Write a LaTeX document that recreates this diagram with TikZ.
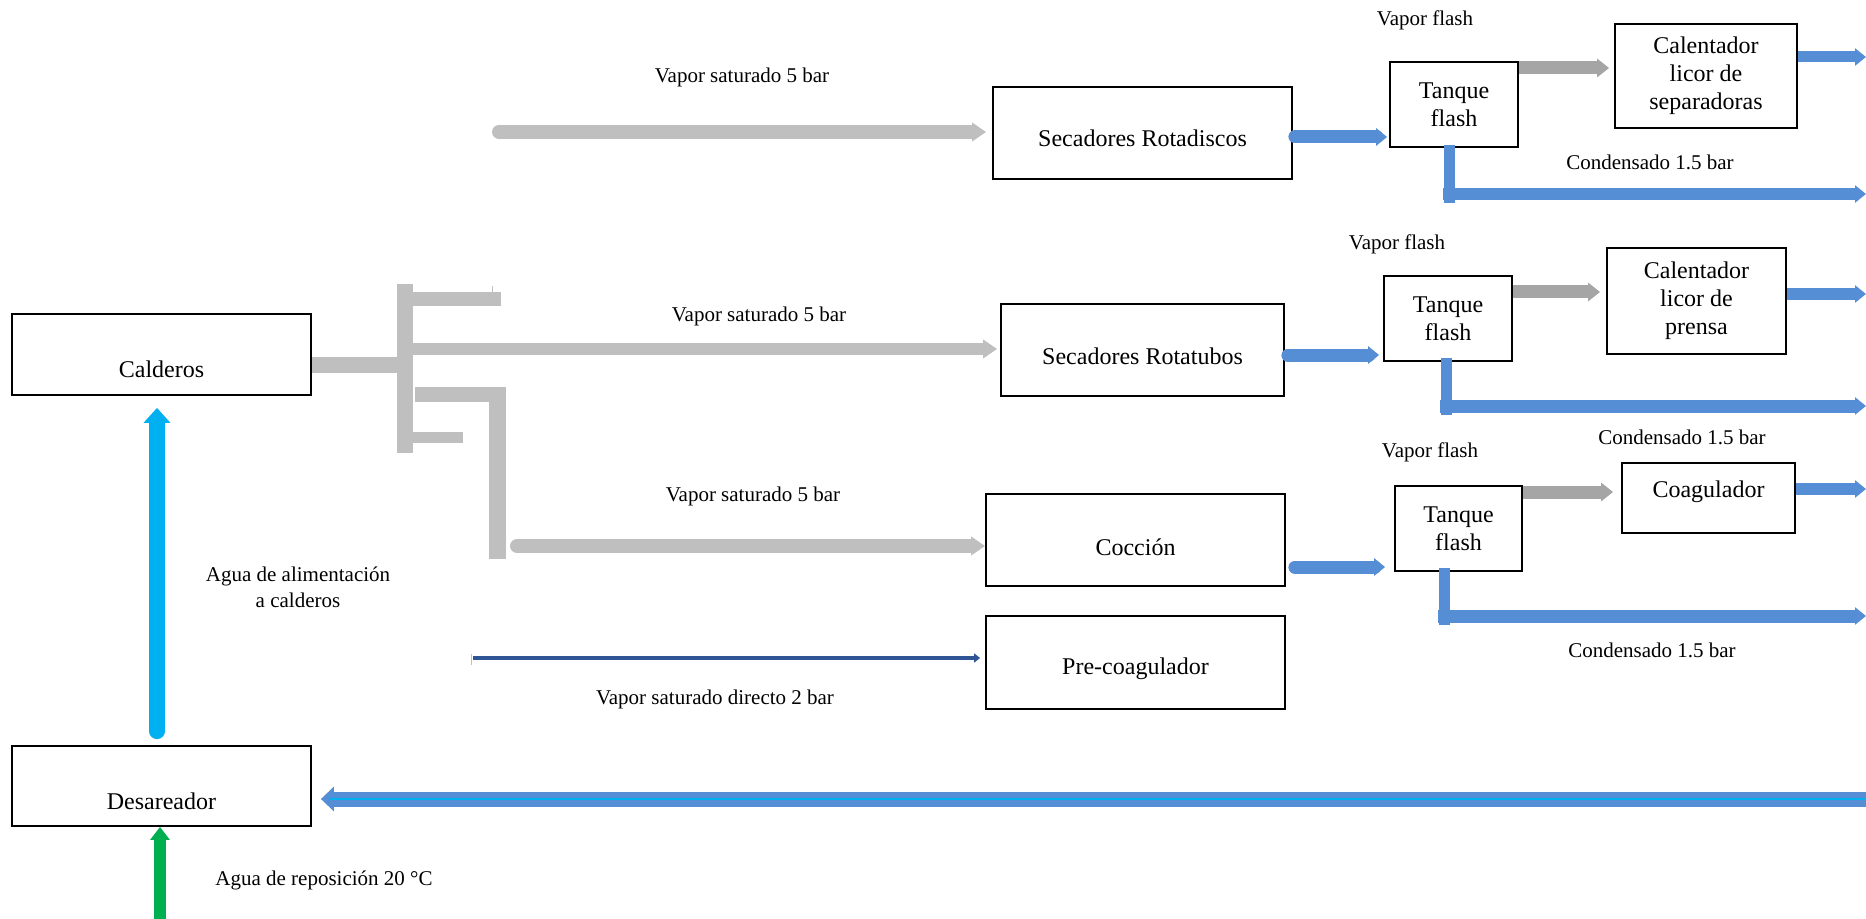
\documentclass[tikz,border=0pt]{standalone}
\usepackage{fontspec}
\setmainfont{Liberation Serif}
\usetikzlibrary{arrows.meta,calc}
\definecolor{pipegray}{HTML}{BFBFBF}
\definecolor{flashgray}{HTML}{A5A5A5}
\definecolor{condblue}{HTML}{558ED5}
\definecolor{feedcyan}{HTML}{00B0F0}
\definecolor{makeupgreen}{HTML}{00B050}
\definecolor{steamblue}{HTML}{2F5597}
% lower a label inside its box without changing the box size
\newcommand\dropby[2]{\raisebox{-#1}[0pt][0pt]{#2}}

\begin{document}
\begin{tikzpicture}[x=0.5pt,y=-0.5pt,
  unit/.style={draw=black, line width=0.9pt, fill=white, inner sep=0pt,
    align=center, font=\fontsize{12}{14}\selectfont},
  lbl/.style={inner sep=0pt, align=center, font=\fontsize{10.5}{13}\selectfont},
  steam/.style={draw=pipegray, line width=7pt, line cap=round,
    -{Triangle[length=7pt,width=9pt]}},
  flashline/.style={draw=flashgray, line width=6.5pt,
    -{Triangle[length=6pt,width=9pt]}},
  cond/.style={draw=condblue, line width=6.5pt, line cap=round,
    -{Triangle[length=5.5pt,width=8.5pt]}},
  condpipe/.style={draw=condblue, line width=5.5pt},
  feed/.style={draw=feedcyan, line width=8pt, line cap=round,
    -{Triangle[length=7.5pt,width=13pt]}},
  makeup/.style={draw=makeupgreen, line width=6pt,
    -{Triangle[length=6.5pt,width=9.5pt]}},
  ret/.style={draw=condblue, line width=7.5pt,
    -{Triangle[length=6.5pt,width=12pt]}},
  direct/.style={draw=steamblue, line width=2pt,
    -{Triangle[length=3pt,width=4.5pt]}},
]
\useasboundingbox (0,0) rectangle (1866,919);

% ---------- equipment ----------
\node[unit, minimum width=149.5pt, minimum height=40.5pt] (cal) at (161.5,354.5) {\dropby{11.25pt}{Calderos}};
\node[unit, minimum width=149.5pt, minimum height=40pt] (des) at (161.5,786) {\dropby{11.5pt}{Desareador}};
\node[unit, minimum width=149.5pt, minimum height=46pt] (rd) at (1142.5,133) {\dropby{7pt}{Secadores Rotadiscos}};
\node[unit, minimum width=141.5pt, minimum height=46pt] (rt) at (1142.5,350) {\dropby{7.5pt}{Secadores Rotatubos}};
\node[unit, minimum width=149.5pt, minimum height=46pt] (coc) at (1135.5,540) {\dropby{7.5pt}{Cocción}};
\node[unit, minimum width=149.5pt, minimum height=46.5pt] (pre) at (1135.5,662.5) {\dropby{6pt}{Pre-coagulador}};

\node[unit, minimum width=64pt, minimum height=42.5pt] (t1) at (1454,104.5) {Tanque\\flash};
\node[unit, minimum width=91pt, minimum height=52pt] (h1) at (1706,76) {Calentador\\licor de\\separadoras};
\node[unit, minimum width=64pt, minimum height=42.5pt] (t2) at (1448,318.5) {Tanque\\flash};
\node[unit, minimum width=89.5pt, minimum height=53pt] (h2) at (1696.5,301) {Calentador\\licor de\\prensa};
\node[unit, minimum width=63.5pt, minimum height=42.5pt] (t3) at (1458.5,528.5) {Tanque\\flash};
\node[unit, minimum width=86.5pt, minimum height=35pt] (co) at (1708.5,498) {\dropby{-0.5pt}{Coagulador}};

% ---------- steam header ----------
\coordinate (hdr) at (405,365);
\draw[draw=pipegray, line width=8pt] (cal.east |- hdr) -- (hdr);
\fill[pipegray] (397,284) rectangle (413,453);
\fill[pipegray] (413,292) rectangle (501,306);
\draw[pipegray, line width=0.5pt] (492,286) -- (492,292);
\fill[pipegray] (415,387) rectangle (506,402);
\fill[pipegray] (489,392) rectangle (506,559);
\fill[pipegray] (413,432) rectangle (463,443);

% ---------- steam to consumers ----------
\coordinate (s1) at (499,132);
\coordinate (s2) at (409,349);
\coordinate (s3) at (517,546);
\draw[steam] (s1) -- (s1 -| rd.west) [shorten >=3pt];
\draw[steam, line width=6pt, line cap=butt] (s2) -- (s2 -| rt.west) [shorten >=1.5pt];
\draw[steam] (s3) -- (s3 -| coc.west);
\coordinate (p0) at (473,658);
\draw[gray!50, line width=0.4pt] (471,654) -- (471,665);
\draw[direct, shorten >=2.5pt] (p0) -- (p0 -| pre.west);

% ---------- condensate to flash tanks ----------
\draw[cond] ($(rd.east)+(2,4)$) -- ($(t1.west |- rd.east)+(-2,4)$);
\draw[cond] ($(rt.east)+(3,5)$) -- ($(t2.west |- rt.east)+(-4,5)$);
\draw[cond] ($(coc.east)+(9,27)$) -- ($(t3.west |- coc.east)+(-9,27)$);

% ---------- flash vapour ----------
\draw[flashline] ($(t1.east)+(0,-36.5)$) -- ($(h1.west |- t1.east)+(-5,-36.5)$);
\draw[flashline] ($(t2.east)+(0,-26.5)$) -- ($(h2.west |- t2.east)+(-6,-26.5)$);
\draw[flashline] ($(t3.east)+(0,-36.5)$) -- ($(co.west |- t3.east)+(-8,-36.5)$);

% ---------- outlets at the right edge ----------
\coordinate (e1) at (1866,57);
\coordinate (e2) at (1866,294);
\coordinate (e3) at (1866,489);
\draw[cond, line cap=butt, line width=5.5pt] (h1.east |- e1) -- (e1);
\draw[cond, line cap=butt, line width=6pt] (h2.east |- e2) -- (e2);
\draw[cond, line cap=butt, line width=6pt] (co.east |- e3) -- (e3);

% ---------- condensate 1.5 bar ----------
\coordinate (k1) at (1866,194);
\coordinate (k2) at (1866,406);
\coordinate (k3) at (1866,616);
\draw[condpipe] ($(t1.south)+(-5,-3)$) -- ($(t1.south)+(-5,55)$);
\draw[cond, line cap=butt, line width=6pt] ($(t1.south |- k1)+(-11,0)$) -- (k1);
\draw[condpipe] ($(t2.south)+(-2,-4)$) -- ($(t2.south)+(-2,53)$);
\draw[cond, line cap=butt] ($(t2.south |- k2)+(-8,0)$) -- (k2);
\draw[condpipe] ($(t3.south)+(-14.5,-4)$) -- ($(t3.south)+(-14.5,53)$);
\draw[cond, line cap=butt] ($(t3.south |- k3)+(-20.5,0)$) -- (k3);

% ---------- boiler feed water ----------
\draw[feed, shorten <=7pt, shorten >=6pt] ($(des.north)+(-4.5,0)$) -- ($(cal.south)+(-4.5,0)$);
\coordinate (w0) at (160,919);
\draw[makeup] (w0) -- (w0 |- des.south);
\coordinate (r0) at (1866,799);
\draw[ret, shorten >=4.5pt] (r0) -- (r0 -| des.east);
\draw[feedcyan, line width=1pt] (r0) -- ($(r0 -| des.east)+(17,0)$);

% ---------- stream labels ----------
\node[lbl] (l1) at (742,77) {Vapor saturado 5 bar};
\node[lbl] (l2) at (759,316) {Vapor saturado 5 bar};
\node[lbl] (l3) at (753,496) {Vapor saturado 5 bar};
\node[lbl] (l4) at (715,699) {Vapor saturado directo 2 bar};
\node[lbl] (l5) at (298,587) {Agua de alimentación\\a calderos};
\node[lbl] (l6) at (324,880) {Agua de reposición 20 °C};
\node[lbl] (v1) at (1425,20) {Vapor flash};
\node[lbl] (v2) at (1397,244) {Vapor flash};
\node[lbl] (v3) at (1430,452) {Vapor flash};
\node[lbl] (c1) at (1650,162) {Condensado 1.5 bar};
\node[lbl] (c2) at (1682,437) {Condensado 1.5 bar};
\node[lbl] (c3) at (1652,650) {Condensado 1.5 bar};
\end{tikzpicture}
\end{document}
